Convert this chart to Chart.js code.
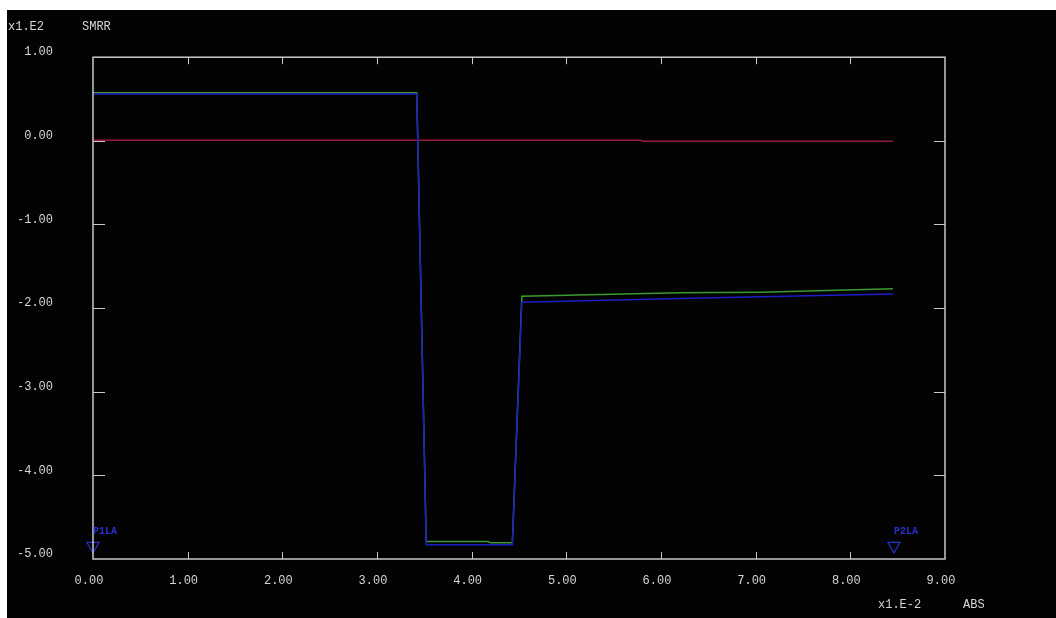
<!DOCTYPE html>
<html>
<head>
    <meta charset="UTF-8">
    <title>SMRR</title>
    <script src="https://cdn.jsdelivr.net/npm/chart.js"></script>
    <style>
        html, body { margin: 0; padding: 0; background: #ffffff; }
        #wrap {
            position: absolute;
            left: 7px;
            top: 10px;
            width: 1049px;
            height: 608px;
            background: #030303;
        }
        canvas { display: block; }
    </style>
</head>
<body>
    <div id="wrap">
        <canvas id="smrrChart" width="1049" height="608"></canvas>
    </div>

    <script>
        // values in axis units (y x1.E2, x x1.E-2)
        const blueX  = [0, 3.42, 3.52, 4.43, 4.53, 6.2, 7.05, 8.45];
        const blueY  = [0.56, 0.56, -4.83, -4.83, -1.93, -1.885, -1.865, -1.83];
        const greenX = [0, 3.42, 3.52, 4.17, 4.2, 4.43, 4.53, 6.2, 7.05, 8.45];
        const greenY = [0.575, 0.575, -4.79, -4.79, -4.805, -4.805, -1.857, -1.817, -1.81, -1.77];
        const redX   = [0, 5.78, 5.82, 8.45];
        const redY   = [0.008, 0.008, -0.006, -0.006];
        const markerX = [0, 8.46];
        const markerY = [-4.844, -4.844];
        const markerLabels = ['P1LA', 'P2LA'];
        const xTicks = [0, 1, 2, 3, 4, 5, 6, 7, 8, 9];
        const yTicks = [1, 0, -1, -2, -3, -4, -5];

        const toPts = (xs, ys) => xs.map((x, i) => ({ x: x, y: ys[i] }));
        const FRAME = '#c8c8c8';
        const TEXT = '#d6d6d6';
        const MONO = '"Liberation Mono", "DejaVu Sans Mono", monospace';

        // frame, inward ticks, corner texts and marker labels
        const decor = {
            id: 'decor',
            afterDraw(chart) {
                const ctx = chart.ctx;
                const a = chart.chartArea;
                const xs = chart.scales.x, ys = chart.scales.y;
                ctx.save();
                ctx.strokeStyle = FRAME;
                ctx.lineWidth = 1.5;
                ctx.strokeRect(a.left, a.top, a.right - a.left, a.bottom - a.top);
                ctx.lineWidth = 1;
                ctx.beginPath();
                xTicks.slice(1, -1).forEach(v => {
                    const px = Math.round(xs.getPixelForValue(v)) + 0.5;
                    ctx.moveTo(px, a.top); ctx.lineTo(px, a.top + 7);
                    ctx.moveTo(px, a.bottom); ctx.lineTo(px, a.bottom - 7);
                });
                yTicks.slice(1, -1).forEach(v => {
                    const py = Math.round(ys.getPixelForValue(v)) + 0.5;
                    ctx.moveTo(a.left, py); ctx.lineTo(a.left + 12, py);
                    ctx.moveTo(a.right, py); ctx.lineTo(a.right - 11, py);
                });
                ctx.stroke();

                ctx.fillStyle = TEXT;
                ctx.font = '12px ' + MONO;
                ctx.textBaseline = 'middle';
                ctx.textAlign = 'left';
                ctx.fillText('x1.E2', 1, 17);
                ctx.fillText('SMRR', 75, 17);
                ctx.fillText('x1.E-2', 871, 595);
                ctx.fillText('ABS', 956, 595);

                const meta = chart.getDatasetMeta(0);
                ctx.fillStyle = '#2a32d0';
                ctx.font = 'bold 10px ' + MONO;
                meta.data.forEach((pt, i) => {
                    ctx.fillText(markerLabels[i], pt.x, pt.y - 14);
                });
                ctx.restore();
            }
        };

        const ctx = document.getElementById('smrrChart').getContext('2d');
        new Chart(ctx, {
            type: 'line',
            data: {
                datasets: [
                    {
                        data: toPts(markerX, markerY),
                        showLine: false,
                        pointStyle: 'triangle',
                        rotation: 180,
                        pointRadius: 7,
                        pointBorderColor: '#2a32d0',
                        pointBackgroundColor: 'rgba(0,0,0,0)',
                        pointBorderWidth: 1.2,
                        clip: false
                    },
                    {
                        data: toPts(blueX, blueY),
                        borderColor: '#1c1cc8',
                        borderWidth: 1.5,
                        pointRadius: 0,
                        tension: 0
                    },
                    {
                        data: toPts(greenX, greenY),
                        borderColor: '#3c9a30',
                        borderWidth: 1.5,
                        pointRadius: 0,
                        tension: 0
                    },
                    {
                        data: toPts(redX, redY),
                        borderColor: '#961a3c',
                        borderWidth: 1.5,
                        pointRadius: 0,
                        tension: 0
                    }
                ]
            },
            options: {
                responsive: false,
                animation: false,
                events: [],
                layout: { padding: { left: 0, top: 47, right: 111, bottom: 29 } },
                plugins: {
                    legend: { display: false },
                    tooltip: { enabled: false }
                },
                scales: {
                    x: {
                        type: 'linear',
                        min: 0,
                        max: 9,
                        afterFit: s => { s.height = 30; },
                        afterBuildTicks: s => { s.ticks = xTicks.map(v => ({ value: v })); },
                        grid: { display: false, drawTicks: false },
                        border: { display: false },
                        ticks: {
                            color: TEXT,
                            font: { family: MONO, size: 12 },
                            padding: 15,
                            labelOffset: -4,
                            maxRotation: 0,
                            autoSkip: false,
                            callback: v => v.toFixed(2)
                        }
                    },
                    y: {
                        type: 'linear',
                        min: -5,
                        max: 1,
                        afterFit: s => { s.width = 86; },
                        afterBuildTicks: s => { s.ticks = yTicks.map(v => ({ value: v })); },
                        grid: { display: false, drawTicks: false },
                        border: { display: false },
                        ticks: {
                            color: TEXT,
                            font: { family: MONO, size: 12 },
                            padding: 40,
                            labelOffset: -5,
                            autoSkip: false,
                            callback: v => v.toFixed(2)
                        }
                    }
                }
            },
            plugins: [decor]
        });
    </script>
</body>
</html>
